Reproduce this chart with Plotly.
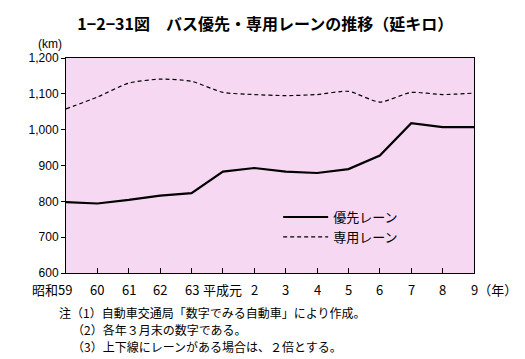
import plotly.graph_objects as go

categories = ["昭和59", "60", "61", "62", "63", "平成元", "2", "3", "4", "5", "6", "7", "8", "9"]
priority = [798, 794, 804, 816, 823, 883, 893, 883, 879, 890, 928, 1018, 1007, 1007]
exclusive = [1058, 1091, 1130, 1141, 1135, 1104, 1098, 1095, 1098, 1107, 1077, 1104, 1098, 1102]
y_ticks = [600, 700, 800, 900, 1000, 1100, 1200]
y_labels = ["600", "700", "800", "900", "1,000", "1,100", "1,200"]
notes = ["注（1）自動車交通局「数字でみる自動車」により作成。",
         "（2）各年３月末の数字である。",
         "（3）上下線にレーンがある場合は、２倍とする。"]

xs = list(range(len(categories)))
FONT = "Noto Sans CJK JP"

fig = go.Figure()
fig.add_trace(go.Scatter(x=xs, y=priority, mode="lines", name="優先レーン",
                         line=dict(color="black", width=2.2)))
fig.add_trace(go.Scatter(x=xs, y=exclusive, mode="lines", name="専用レーン",
                         line=dict(color="black", width=1.2, dash="4px,3px", shape="spline", smoothing=0.6)))

fig.update_layout(
    width=525, height=359,
    margin=dict(l=58, r=59, t=50, b=94),
    paper_bgcolor="white", plot_bgcolor="#f7d8f2",
    font=dict(family=FONT, color="black", size=12),
    showlegend=True,
    legend=dict(x=0.52, y=0.33, xanchor="left", yanchor="top", bgcolor="rgba(0,0,0,0)",
                font=dict(size=13, family=FONT), itemwidth=45, tracegroupgap=2),
    title=dict(text="<b>1−2−31図　バス優先・専用レーンの推移（延キロ）</b>", x=0.49, xanchor="center",
               y=0.955, yanchor="middle", font=dict(size=16, family=FONT)),
)
fig.update_xaxes(range=[0, len(categories) - 1], tickvals=xs, ticktext=[""] * len(xs),
                 ticks="inside", ticklen=5, tickcolor="black", showgrid=False, zeroline=False,
                 showline=True, linecolor="black", linewidth=1, mirror=True)
fig.update_yaxes(range=[600, 1200], tickvals=y_ticks, ticktext=y_labels, ticks="outside", ticklen=4,
                 tickcolor="black", showgrid=False, zeroline=False, showline=True, linecolor="black",
                 linewidth=1, mirror=True, tickfont=dict(family="Liberation Sans", size=12))

for i, lab in enumerate(categories):
    if i == 0:
        fig.add_annotation(x=i, y=0, yref="paper", text=lab, showarrow=False, xanchor="right",
                           xshift=8, yanchor="top", yshift=-5, font=dict(size=13, family=FONT))
    elif i == len(categories) - 1:
        fig.add_annotation(x=i, y=0, yref="paper", text=lab + "（年）", showarrow=False, xanchor="left",
                           xshift=-5, yanchor="top", yshift=-5, font=dict(size=13, family=FONT))
    else:
        fig.add_annotation(x=i, y=0, yref="paper", text=lab, showarrow=False, xanchor="center",
                           yanchor="top", yshift=-5, font=dict(size=13, family=FONT))

fig.add_annotation(xref="paper", yref="paper", x=-0.04, y=1.065, text="(km)", showarrow=False,
                   xanchor="center", yanchor="middle", font=dict(size=12, family="Liberation Sans"))

note_y = [304, 321, 338]
for k, (t, yy) in enumerate(zip(notes, note_y)):
    xpix = 50 if k == 0 else 63
    fig.add_annotation(x=(xpix - 58) / 408, y=(359 - 94 - yy) / 215, xref="paper", yref="paper",
                       text=t, showarrow=False, xanchor="left", yanchor="middle", borderpad=0,
                       font=dict(size=12, family=FONT))

fig.write_html("out.html")
